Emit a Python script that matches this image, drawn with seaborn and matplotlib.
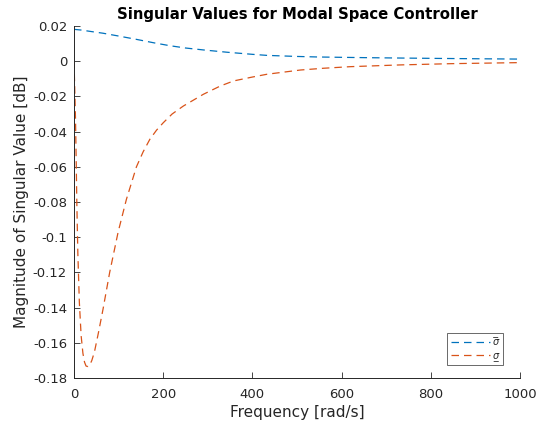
import numpy as np
import pandas as pd
import matplotlib
matplotlib.use("Agg")
import matplotlib.pyplot as plt
import seaborn as sns

# Frequency response samples of the controller's singular values
freq_max = [0, 16, 40, 65, 100, 140, 180, 215, 250, 290, 343, 400, 433,
            500, 546, 600, 658, 730, 808, 900, 1000]
sigma_max = [0.0181, 0.0177, 0.0168, 0.0159, 0.0143, 0.0124, 0.0104, 0.0088,
             0.0075, 0.0064, 0.0051, 0.0039, 0.0033, 0.0027, 0.0024, 0.0022,
             0.0020, 0.0018, 0.0016, 0.0014, 0.0012]

freq_min = [0, 1.5, 3.4, 5, 6.3, 8.6, 12, 16, 20, 23.6, 27, 31, 35, 40, 46,
            55, 65, 80, 99, 117.5, 140, 155, 170, 185, 200, 220, 245, 290,
            328, 358, 400, 433, 508, 560, 620, 733, 846, 1000]
sigma_min = [0.0, -0.014, -0.033, -0.058, -0.080, -0.109, -0.137, -0.156,
             -0.166, -0.171, -0.1732, -0.1735, -0.1728, -0.170, -0.165,
             -0.154, -0.141, -0.120, -0.097, -0.0785, -0.060, -0.0515,
             -0.0444, -0.0392, -0.035, -0.0300, -0.0255, -0.0188, -0.0141,
             -0.0112, -0.0090, -0.0074, -0.0050, -0.0040, -0.0031, -0.0021,
             -0.0014, -0.0008]

labels = ["\u03c3\u0305", "\u03c3\u0332"]
colors = ["#0072BD", "#D95319"]

x_ticks = [0, 200, 400, 600, 800, 1000]
y_ticks = [0.02, 0, -0.02, -0.04, -0.06, -0.08, -0.1, -0.12, -0.14, -0.16, -0.18]
y_tick_labels = ["0.02", "0", "-0.02", "-0.04", "-0.06", "-0.08", "-0.1",
                 "-0.12", "-0.14", "-0.16", "-0.18"]

df = pd.concat([
    pd.DataFrame({"freq": freq_max, "sv": sigma_max, "curve": labels[0]}),
    pd.DataFrame({"freq": freq_min, "sv": sigma_min, "curve": labels[1]}),
])

sns.set_style("white")
plt.rcParams["font.family"] = ["DejaVu Sans"]

fig = plt.figure(figsize=(5.39, 4.25), dpi=100)
ax = fig.add_axes([74 / 539, 1 - 378 / 425, 446 / 539, 352 / 425])

sns.lineplot(data=df, x="freq", y="sv", hue="curve", palette=colors,
             hue_order=labels, sort=False, estimator=None, ax=ax,
             linewidth=0.9, dashes=False)
for line in ax.get_lines():
    line.set_linestyle((0, (6, 4)))

ax.set_xlim(0, 1000)
ax.set_ylim(-0.18, 0.02)
ax.set_xticks(x_ticks)
ax.set_xticklabels([str(t) for t in x_ticks])
ax.set_yticks(y_ticks)
ax.set_yticklabels(y_tick_labels)

dark = "#262626"
ax.tick_params(direction="in", length=4, width=0.6, colors=dark,
               labelsize=9.5, bottom=True, left=True)
ax.tick_params(axis="x", pad=7)
ax.tick_params(axis="y", pad=5)
for side in ("top", "right"):
    ax.spines[side].set_visible(False)
for side in ("left", "bottom"):
    ax.spines[side].set_color(dark)
    ax.spines[side].set_linewidth(0.7)

ax.set_xlabel("Frequency [rad/s]", fontsize=11, color=dark, labelpad=3)
ax.set_ylabel("Magnitude of Singular Value [dB]", fontsize=11, color=dark,
              labelpad=3)
ax.set_title("Singular Values for Modal Space Controller", fontsize=10.7,
             fontweight="bold", color="black", pad=5)

leg = ax.legend(loc="lower right", bbox_to_anchor=(0.962, 0.037),
                prop={"size": 7, "style": "italic"}, frameon=True,
                fancybox=False, handlelength=4, borderpad=0.4,
                labelspacing=0.3, handletextpad=0.3, borderaxespad=0)
leg.get_frame().set_edgecolor(dark)
leg.get_frame().set_linewidth(0.6)
for h in leg.get_lines():
    h.set_linestyle((0, (6, 4)))
    h.set_linewidth(0.9)

fig.savefig("out.png", dpi=100)
